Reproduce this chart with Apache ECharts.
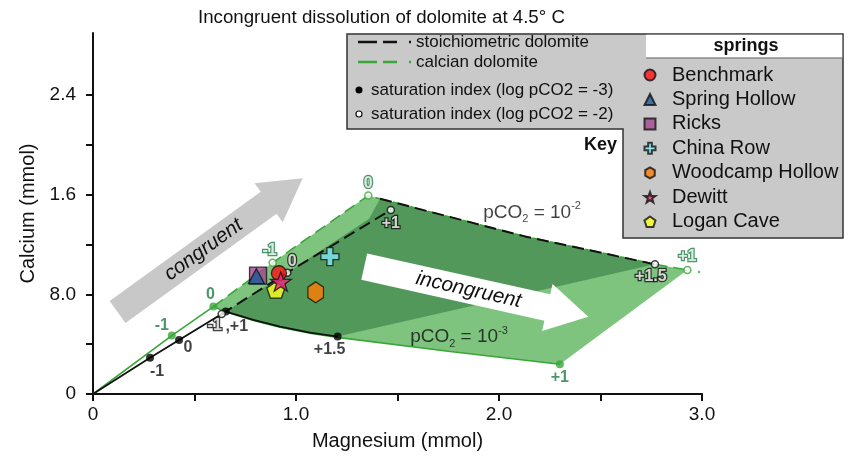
<!DOCTYPE html>
<html><head><meta charset="utf-8">
<script src="https://cdn.jsdelivr.net/npm/echarts@6/dist/echarts.min.js"></script>
<style>html,body{margin:0;padding:0;background:#fff}#c{width:849px;height:463px}</style>
</head><body><div id="c"></div>
<script>
const FONT = "'Liberation Sans', Arial, Helvetica, sans-serif";

// ---------- axis ticks ----------
const xTickValues = [0, 1, 2, 3];
const xTickLabels = ['0', '1.0', '2.0', '3.0'];
const yTickValues = [0, 0.8, 1.6, 2.4];
const yTickLabels = ['0', '8.0', '1.6', '2.4'];
const yMinorTicks = [0, 0.4, 0.8, 1.2, 1.6, 2.0, 2.4];

// ---------- curves: [Mg mmol, Ca mmol] ----------
// stoichiometric dolomite, log pCO2 = -3 (solid black)
const stoichLow = [[0,0],[0.281,0.292],[0.424,0.434],[0.654,0.662],[0.790,0.595],[0.921,0.541],[1.069,0.493],[1.205,0.461]];
const stoichLowSI = [[0.281,0.292],[0.424,0.434],[0.654,0.662],[1.205,0.461]];
const stoichLowSILabels = ['-1','0',',+1','+1.5'];
// calcian dolomite, log pCO2 = -3 (solid green)
const calcianLow = [[0,0],[0.388,0.469],[0.593,0.702],[0.654,0.660],[0.790,0.590],[0.921,0.536],[1.069,0.488],[1.205,0.455],[1.759,0.341],[2.300,0.239]];
const calcianLowSI = [[0.388,0.469],[0.593,0.702],[2.300,0.239]];
const calcianLowSILabels = ['-1','0','+1'];
// stoichiometric dolomite, log pCO2 = -2 (dashed black)
const stoichHighInner = [[0.634,0.643],[0.957,0.975],[1.467,1.479]];
const stoichHighTop = [[1.414,1.568],[2.128,1.266],[2.768,1.042]];
const stoichHighSI = [[0.634,0.643],[0.957,0.975],[1.467,1.479],[2.768,1.042]];
const stoichHighSILabels = ['-1','0','+1','+1.5'];
// calcian dolomite, log pCO2 = -2 (dashed green)
const calcianHigh = [[0.593,0.702],[0.885,1.055],[1.356,1.594],[1.414,1.568],[2.128,1.266],[2.768,1.042],[2.928,0.997]];
const calcianHighTail = [[2.985,0.981]];
const calcianHighSI = [[0.885,1.055],[1.356,1.594],[2.928,0.997]];
const calcianHighSILabels = ['-1','0','+1'];
// inner edge of the stoichiometric field
const stoichFieldEdge = [[0.957,0.975],[1.360,1.407]];

// ---------- springs ----------
const springNames = ['Benchmark','Spring Hollow','Ricks','China Row','Woodcamp Hollow','Dewitt','Logan Cave'];
const springMg = [0.916, 0.805, 0.813, 1.167, 1.097, 0.925, 0.901];
const springCa = [0.970, 0.946, 0.951, 1.104, 0.817, 0.903, 0.836];

// ---------- annotations ----------
const arrowTexts = ['congruent', 'incongruent'];
const arrowTail = [[0.121,0.659],[1.336,1.023]];
const arrowTip = [[1.033,1.734],[2.440,0.621]];
const pco2Exponents = ['-2','-3'];
const pco2Pos = [[2.163,1.455],[1.803,0.458]];

// ---------- styles ----------
const GREEN_LINE = '#3aa63a';
const GREEN_TEXT = '#1f7d45';
const LIGHT_FILL = '#7ec47e';
const DARK_FILL = '#52985a';
const springStyle = {
  'Benchmark':      {color:'#ff1010', symbol:'circle', size:[15,15]},
  'Spring Hollow':  {color:'#1d5a98', symbol:'triangle', size:[16,15]},
  'Ricks':          {color:'#a2468f', symbol:'rect', size:[17,17]},
  'China Row':      {color:'#7ee8f4', symbol:'path://M-3,-9L3,-9L3,-3L9,-3L9,3L3,3L3,9L-3,9L-3,3L-9,3L-9,-3L-3,-3Z', size:[18,18]},
  'Woodcamp Hollow':{color:'#ff7c00', symbol:'path://M0,-10L8.66,-5L8.66,5L0,10L-8.66,5L-8.66,-5Z', size:[18,21]},
  'Dewitt':         {color:'#f0287a', symbol:'path://M0,-10L2.35,-3.24L9.51,-3.09L3.8,1.24L5.88,8.09L0,4L-5.88,8.09L-3.8,1.24L-9.51,-3.09L-2.35,-3.24Z', size:[21,20]},
  'Logan Cave':     {color:'#ffff22', symbol:'path://M0,-10L9.51,-3.09L5.88,8.09L-5.88,8.09L-9.51,-3.09Z', size:[18,17]}
};
const drawOrder = ['Ricks','Spring Hollow','Benchmark','China Row','Woodcamp Hollow','Logan Cave','Dewitt'];
const labelOffsets = {
  stoichLow: [[7,14],[9,8],[11,15],[-8,13]],
  calcianLow: [[-10,-10],[-3,-12],[0,13]],
  stoichHigh: [[-7,12],[5,-11],[0,14],[-4,12]],
  calcianHigh: [[-3,-12],[0,-12],[0,-13]]
};

function polySeries(points, fill) {
  return {
    type:'custom', coordinateSystem:'cartesian2d', silent:true, clip:false,
    data: points, encode:{x:0, y:1},
    renderItem: function (params, api) {
      if (params.dataIndex !== 0) return null;
      return {type:'polygon', shape:{points: points.map(p => api.coord(p))}, style:{fill: fill}};
    }
  };
}

function lineSeries(points, color, width, dash, z) {
  return {type:'line', data: points, showSymbol:false, symbol:'none', silent:true, z: z || 3,
    lineStyle:{color: color, width: width, type: dash ? [12,6] : 'solid'}};
}

function siSeries(points, labels, offsets, opts) {
  return {
    type:'scatter', silent:true, z: 5,
    symbol:'circle', symbolSize: opts.size,
    itemStyle: opts.itemStyle,
    data: points.map((p, i) => ({
      value: p,
      label: {show:true, formatter: labels[i], position:'inside', offset: offsets[i],
        fontFamily: FONT, fontSize: 16, fontWeight:'bold', color: opts.textColor,
        textBorderColor: opts.textBorder || 'transparent', textBorderWidth: opts.textBorder ? 2.5 : 0}
    }))
  };
}

const lightRegion = calcianHigh.concat(calcianLow.slice(2).reverse());
const darkRegion = [stoichLow[3]].concat(stoichFieldEdge, stoichHighTop, stoichLow.slice(4).reverse());

const arrowData = arrowTail.map((t, i) => [t[0], t[1], arrowTip[i][0], arrowTip[i][1]]);
const arrowFill = ['#c8c8c8', '#ffffff'];

const series = [
  polySeries(lightRegion, LIGHT_FILL),
  polySeries(darkRegion, DARK_FILL),
  {
    type:'custom', coordinateSystem:'cartesian2d', silent:true, clip:false, z: 3,
    data: arrowData, encode:{x:[0,2], y:[1,3]},
    renderItem: function (params, api) {
      const a = api.coord([api.value(0), api.value(1)]);
      const b = api.coord([api.value(2), api.value(3)]);
      const dx = b[0]-a[0], dy = b[1]-a[1], L = Math.hypot(dx, dy);
      const ux = dx/L, uy = dy/L, px = -uy, py = ux;
      const hw = 13.5, hl = 42, hh = 24;
      const P = (t, s) => [a[0]+ux*t+px*s, a[1]+uy*t+py*s];
      const pts = [P(0,-hw),P(L-hl,-hw),P(L-hl,-hh),P(L,0),P(L-hl,hh),P(L-hl,hw),P(0,hw)];
      const m = P(L*0.465, 0);
      return {type:'group', children:[
        {type:'polygon', shape:{points: pts}, style:{fill: arrowFill[params.dataIndex]}},
        {type:'text', x: m[0], y: m[1], rotation: -Math.atan2(dy, dx),
          style:{text: arrowTexts[params.dataIndex], fontFamily: FONT, fontSize: 20.5, fontStyle:'italic',
            fill:'#111', align:'center', verticalAlign:'middle'}}
      ]};
    }
  },
  lineSeries(calcianLow, GREEN_LINE, 1.6, false, 3),
  lineSeries(stoichLow, '#111', 1.8, false, 3),
  lineSeries(calcianHigh, GREEN_LINE, 1.6, true, 3),
  lineSeries(stoichHighInner, '#111', 2, true, 4),
  lineSeries(stoichHighTop, '#111', 2, true, 4),
  {type:'scatter', data: calcianHighTail, symbol:'circle', symbolSize:2.5, silent:true, itemStyle:{color: GREEN_LINE}},
  siSeries(stoichLowSI, stoichLowSILabels, labelOffsets.stoichLow, {size:8, itemStyle:{color:'#000'}, textColor:'#111'}),
  siSeries(calcianLowSI, calcianLowSILabels, labelOffsets.calcianLow, {size:8, itemStyle:{color: GREEN_LINE}, textColor: GREEN_TEXT}),
  siSeries(stoichHighSI, stoichHighSILabels, labelOffsets.stoichHigh, {size:7, itemStyle:{color:'#fff', borderColor:'#111', borderWidth:1.5}, textColor:'#fff', textBorder:'#111'}),
  siSeries(calcianHighSI, calcianHighSILabels, labelOffsets.calcianHigh, {size:7, itemStyle:{color:'#fff', borderColor: GREEN_LINE, borderWidth:1.5}, textColor:'#fff', textBorder: GREEN_TEXT}),
  {
    type:'scatter', silent:true, z: 5, symbolSize: 0,
    data: pco2Pos.map((p, i) => ({value: p, label:{show:true, position:'inside',
      formatter: '{a|pCO}{s|2}{a| = 10}{p|' + pco2Exponents[i] + '}'}})),
    label: {color:'#111', fontFamily: FONT,
      rich: {
        a: {fontSize: 19, fontFamily: FONT, color:'#111', lineHeight: 24},
        s: {fontSize: 11, fontFamily: FONT, color:'#111', verticalAlign:'bottom', lineHeight: 11},
        p: {fontSize: 11, fontFamily: FONT, color:'#111', verticalAlign:'top', lineHeight: 11}
      }}
  }
];

drawOrder.forEach(name => {
  const i = springNames.indexOf(name);
  const st = springStyle[name];
  series.push({
    name: name, type:'scatter', z: 6,
    symbol: st.symbol, symbolSize: st.size, symbolKeepAspect: true,
    itemStyle: {color: st.color, borderColor:'#111', borderWidth: 1.3},
    data: [[springMg[i], springCa[i]]]
  });
});

function tickLabel(values, labels) {
  return function (v) {
    const i = values.findIndex(t => Math.abs(t - v) < 1e-9);
    return i >= 0 ? labels[i] : '';
  };
}

const chart = echarts.init(document.getElementById('c'), null, {renderer:'canvas'});
chart.setOption({
  animation: false,
  backgroundColor: '#fff',
  title: {text: 'Incongruent dissolution of dolomite at 4.5° C', left: 198, top: 8, padding: 0,
    textStyle: {fontFamily: FONT, fontSize: 18.7, fontWeight:'normal', color:'#111'}},
  grid: {left: 93, right: 147, top: 33, bottom: 69},
  xAxis: {
    type:'value', min: 0, max: 3, interval: 0.5,
    name:'Magnesium (mmol)', nameLocation:'middle', nameGap: 37,
    nameTextStyle: {fontFamily: FONT, fontSize: 20, color:'#111'},
    axisLine: {lineStyle: {color:'#111', width: 2}},
    axisTick: {length: 7, lineStyle: {color:'#111', width: 2}},
    axisLabel: {customValues: xTickValues, formatter: tickLabel(xTickValues, xTickLabels),
      margin: 11, fontFamily: FONT, fontSize: 19, color:'#111'},
    splitLine: {show: false}
  },
  yAxis: {
    type:'value', min: 0, max: 2.9, interval: 0.4,
    name:'Calcium (mmol)', nameLocation:'middle', nameGap: 55, nameRotate: 90,
    nameTextStyle: {fontFamily: FONT, fontSize: 20, color:'#111'},
    axisLine: {show: true, lineStyle: {color:'#111', width: 2}},
    axisTick: {show: true, length: 7, customValues: yMinorTicks, lineStyle: {color:'#111', width: 2}},
    axisLabel: {customValues: yTickValues, formatter: tickLabel(yTickValues, yTickLabels),
      margin: 17, fontFamily: FONT, fontSize: 19, color:'#111'},
    splitLine: {show: false}
  },
  legend: {
    data: springNames, orient:'vertical', left: 643.5, top: 65,
    itemWidth: 11, itemHeight: 11, itemGap: 4.45, padding: 0, selectedMode: false,
    symbolKeepAspect: true,
    textStyle: {fontFamily: FONT, fontSize: 20, color:'#111', padding: [0, 0, 0, 11.5]}
  },
  graphic: [
    {type:'polygon', z: 0, shape:{points:[[347,34],[843,34],[843,238],[623,238],[623,129],[347,129]]},
      style:{fill:'#c9c9c9', stroke:'#333', lineWidth: 1.5}},
    {type:'rect', z: 0, shape:{x: 646, y: 34.75, width: 196.25, height: 23}, style:{fill:'#fff'}},
    {type:'line', z: 0, shape:{x1: 646, y1: 58, x2: 843, y2: 58}, style:{stroke:'#666', lineWidth: 1}},
    {type:'text', z: 1, x: 746, y: 46, style:{text:'springs', fontFamily: FONT, fontSize: 18, fontWeight:'bold', fill:'#111', align:'center', verticalAlign:'middle'}},
    {type:'text', z: 1, x: 617, y: 145, style:{text:'Key', fontFamily: FONT, fontSize: 18, fontWeight:'bold', fill:'#111', align:'right', verticalAlign:'middle'}},
    {type:'line', z: 1, shape:{x1: 358, y1: 42, x2: 412, y2: 42}, style:{stroke:'#111', lineWidth: 2.5, lineDash:[19,6,14,12,2,20]}},
    {type:'line', z: 1, shape:{x1: 358, y1: 62, x2: 412, y2: 62}, style:{stroke: GREEN_LINE, lineWidth: 2.5, lineDash:[19,6,14,12,2,20]}},
    {type:'circle', z: 1, shape:{cx: 359, cy: 90, r: 3.5}, style:{fill:'#000'}},
    {type:'circle', z: 1, shape:{cx: 359, cy: 114, r: 3}, style:{fill:'#fff', stroke:'#111', lineWidth: 1.2}},
    {type:'text', z: 1, x: 416, y: 42, style:{text:'stoichiometric dolomite', fontFamily: FONT, fontSize: 17, fill:'#111', verticalAlign:'middle'}},
    {type:'text', z: 1, x: 416, y: 62, style:{text:'calcian dolomite', fontFamily: FONT, fontSize: 17, fill:'#111', verticalAlign:'middle'}},
    {type:'text', z: 1, x: 371, y: 90, style:{text:'saturation index (log pCO2 = -3)', fontFamily: FONT, fontSize: 17, fill:'#111', verticalAlign:'middle'}},
    {type:'text', z: 1, x: 371, y: 114, style:{text:'saturation index (log pCO2 = -2)', fontFamily: FONT, fontSize: 17, fill:'#111', verticalAlign:'middle'}}
  ],
  series: series
});
</script>
</body></html>
